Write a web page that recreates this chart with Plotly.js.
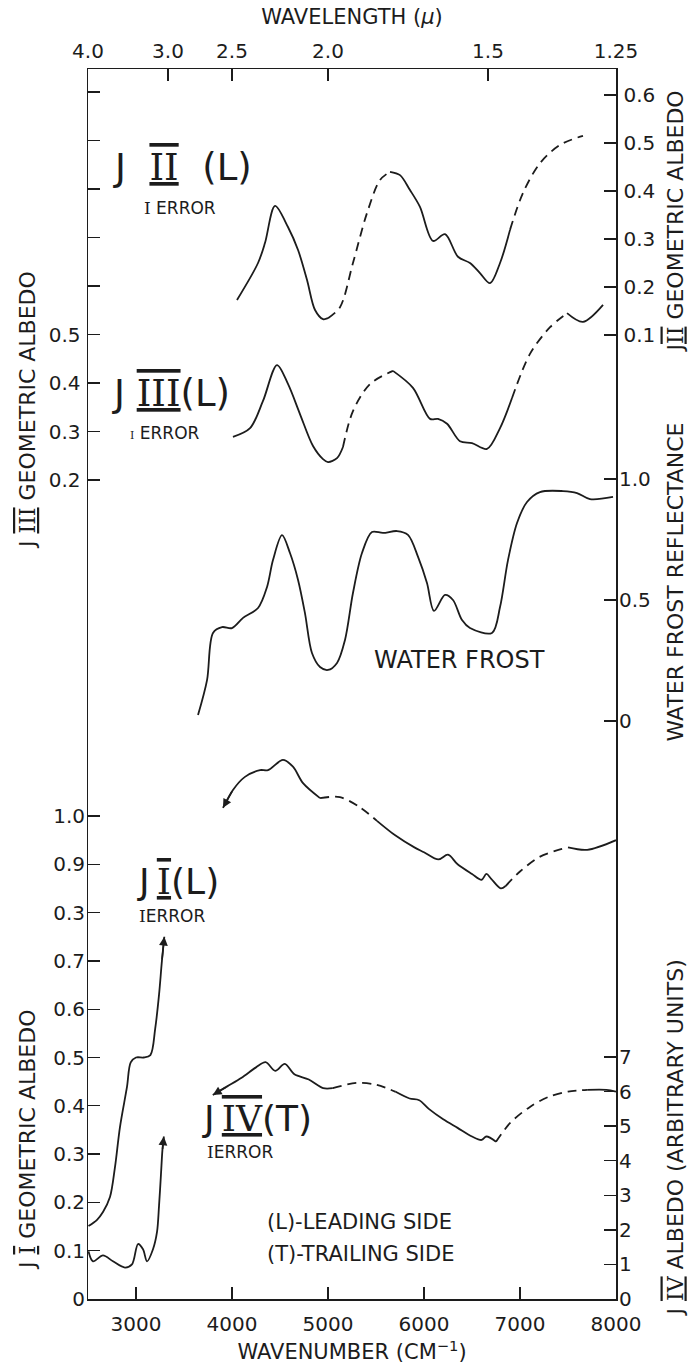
<!DOCTYPE html>
<html><head><meta charset="utf-8">
<script src="https://cdn.plot.ly/plotly-3.0.1.min.js"></script>
<style>body{margin:0;background:#fff}#c{width:689px;height:1369px}</style>
</head><body><div id="c"></div>
<script>
// ---------- axis tick data ----------
const wavenumberTicks = [3000,4000,5000,6000,7000,8000];
const wavelengthTicks = [4.0,3.0,2.5,2.0,1.5,1.25];
const wavelengthLabels = ['4.0','3.0','2.5','2.0','1.5','1.25'];
const j3Ticks = [0.2,0.3,0.4,0.5];
const j3Labels = ['0.2','0.3','0.4','0.5'];
const j3MinorTicks = [0.6,0.7,0.8,0.9,1.0];
const j2Ticks = [0.1,0.2,0.3,0.4,0.5,0.6];
const j2Labels = ['0.1','0.2','0.3','0.4','0.5','0.6'];
const frostTicks = [0,0.5,1.0];
const frostLabels = ['0','0.5','1.0'];
const j1Ticks = [0,0.1,0.2,0.3,0.4,0.5,0.6,0.7,0.8,0.9,1.0];
const j1Labels = ['0','0.1','0.2','0.3','0.4','0.5','0.6','0.7','0.3','0.9','1.0'];
const j4Ticks = [0,1,2,3,4,5,6,7];
const j4Labels = ['0','1','2','3','4','5','6','7'];

// ---------- series (wavenumber cm-1, value, segment style: s=solid d=dashed) ----------
const j2_wn  = [4052,4271,4344,4448,4583,4688,4781,4865,4948,5000,5125,5260,5406,5542,5646,5750,5854,5958,6094,6219,6354,6479,6583,6688,6792,6896,7031,7208,7417,7656];
const j2_val = [0.173,0.25,0.292,0.369,0.325,0.277,0.215,0.152,0.133,0.135,0.158,0.25,0.354,0.423,0.44,0.433,0.402,0.367,0.296,0.31,0.263,0.25,0.229,0.208,0.25,0.319,0.396,0.458,0.496,0.515];
const j2_sty = ['s','s','s','s','s','s','s','s','s','d','d','d','d','d','s','s','s','s','s','s','s','s','s','s','s','d','d','d','d','d'];

const j3_wn  = [4010,4188,4323,4469,4583,4708,4844,4948,5000,5094,5156,5260,5438,5677,5885,6063,6146,6240,6375,6500,6656,6792,6917,7104,7313,7490,7656,7865];
const j3_val = [0.289,0.307,0.363,0.437,0.398,0.336,0.270,0.243,0.237,0.245,0.268,0.342,0.398,0.425,0.39,0.326,0.326,0.316,0.28,0.276,0.264,0.307,0.369,0.46,0.515,0.544,0.526,0.561];
const j3_sty = ['s','s','s','s','s','s','s','s','s','s','d','d','d','s','s','s','s','s','s','s','s','s','d','d','d','s','s','s'];

const frost_wn  = [3646,3740,3802,3896,4000,4115,4271,4365,4427,4521,4604,4688,4760,4833,4917,5000,5094,5177,5260,5354,5458,5573,5719,5833,5938,6031,6104,6219,6302,6396,6479,6708,6792,6875,6969,7073,7208,7448,7594,7729,7969];
const frost_val = [0.025,0.169,0.364,0.388,0.384,0.426,0.467,0.554,0.665,0.768,0.694,0.583,0.446,0.281,0.223,0.211,0.240,0.335,0.529,0.694,0.781,0.777,0.785,0.769,0.678,0.570,0.455,0.521,0.500,0.417,0.384,0.364,0.471,0.665,0.818,0.905,0.946,0.950,0.942,0.917,0.926];

const j1a_wn  = [2505,2594,2656,2729,2781,2833,2906,2945,3000,3080,3150,3200,3240,3270,3295];
const j1a_val = [0.151,0.164,0.180,0.211,0.273,0.356,0.439,0.49,0.50,0.50,0.505,0.56,0.63,0.70,0.75];
const j1b_wn  = [3906,4010,4135,4292,4375,4531,4635,4740,4917,5125,5333,5510,5700,5900,6000,6150,6250,6350,6500,6600,6650,6700,6800,6850,7000,7200,7400,7500,7700,8000];
const j1b_val = [1.017,1.054,1.081,1.095,1.095,1.116,1.102,1.068,1.037,1.039,1.018,0.99,0.96,0.935,0.925,0.91,0.92,0.9,0.88,0.868,0.88,0.87,0.85,0.855,0.885,0.915,0.93,0.935,0.93,0.95];
const j1b_sty = ['s','s','s','s','s','s','s','s','d','d','d','s','s','s','s','s','s','s','s','s','s','s','s','d','d','d','d','s','s','s'];

const j4a_wn  = [2505,2552,2656,2760,2885,2958,3021,3073,3115,3177,3219,3240,3260,3275,3290];
const j4a_val = [1.38,1.09,1.26,1.09,0.91,1.0,1.59,1.44,1.09,1.44,1.94,2.7,3.6,4.3,4.7];
const j4b_wn  = [3800,3950,4100,4250,4350,4450,4550,4650,4800,4950,5050,5300,5500,5700,5850,5950,6050,6200,6350,6500,6600,6650,6750,6900,7100,7300,7500,7700,7900,8000];
const j4b_val = [5.9,6.15,6.4,6.7,6.85,6.6,6.8,6.5,6.35,6.1,6.1,6.25,6.2,6.0,5.8,5.75,5.5,5.2,4.95,4.7,4.6,4.7,4.55,5.1,5.55,5.85,6.0,6.05,6.05,6.0];
const j4b_sty = ['s','s','s','s','s','s','s','s','s','s','d','d','d','s','s','s','s','s','s','s','s','s','d','d','d','d','d','s','s','s'];

// ---------- layout geometry (pixels) ----------
const W=689,H=1369, L=88, R=616, T=69, B=1299;
const PW=R-L, PH=B-T;
function px(x){return (x-L)/PW;}
function py(y){return (B-y)/PH;}
function rangeFrom(v1,y1,v2,y2){const k=(y1-y2)/(v2-v1);const top=v1+(y1-T)/k;const bot=v1-(B-y1)/k;return [bot,top];}

const INK='#1c1c1c';
const FONT='DejaVu Sans';
const traces=[];
function addSeries(wn,val,sty,ax){
  let i=0;
  while(i<wn.length-1){
    const st=sty?sty[i]:'s';
    let j=i+1;
    while(j<wn.length-1 && (sty?sty[j]:'s')===st) j++;
    traces.push({x:wn.slice(i,j+1),y:val.slice(i,j+1),yaxis:ax,xaxis:'x',mode:'lines',
      line:{color:INK,width:1.8,shape:'spline',smoothing:0.9,dash:st==='d'?'9px,6px':'solid'},hoverinfo:'skip',showlegend:false});
    i=j;
  }
}
addSeries(j2_wn,j2_val,j2_sty,'y2');
addSeries(j3_wn,j3_val,j3_sty,'y');
addSeries(frost_wn,frost_val,null,'y3');
addSeries(j1a_wn,j1a_val,null,'y4');
addSeries(j1b_wn,j1b_val,j1b_sty,'y4');
addSeries(j4a_wn,j4a_val,null,'y5');
addSeries(j4b_wn,j4b_val,j4b_sty,'y5');
traces.push({x:[2500,8000],y:[0,0],xaxis:'x2',yaxis:'y',mode:'lines',line:{width:0},hoverinfo:'skip',showlegend:false});
traces.push({x:[2500,8000],y:[0,0],xaxis:'x',yaxis:'y6',mode:'lines',line:{width:0},hoverinfo:'skip',showlegend:false});

const tickFont={family:FONT,size:20,color:INK};
function yax(extra){return Object.assign({showgrid:false,zeroline:false,ticks:'inside',ticklen:12,tickwidth:1.3,tickcolor:INK,
  tickmode:'array',tickfont:tickFont,showline:false,fixedrange:true,ticklabelstandoff:2},extra);}

const r3=rangeFrom(0.5,334.5,0.2,480);
const r2=rangeFrom(0.1,335,0.6,95);
const rf=rangeFrom(0,721,1.0,479);
const r1=rangeFrom(0,1299,1.0,816);
const r4=rangeFrom(0,1299,7,1057);

function arrowEnd(wn,val,yref){
  const n=wn.length;
  return {x:wn[n-1],y:val[n-1],ax:wn[n-2],ay:val[n-2],xref:'x',yref:yref,axref:'x',ayref:yref,
    showarrow:true,arrowhead:2,arrowsize:1.1,arrowwidth:1.6,arrowcolor:INK,text:''};
}
function arrowStart(wn,val,yref){
  return {x:wn[0],y:val[0],ax:wn[1],ay:val[1],xref:'x',yref:yref,axref:'x',ayref:yref,
    showarrow:true,arrowhead:2,arrowsize:1.1,arrowwidth:1.6,arrowcolor:INK,text:''};
}
function RN(s){return '<span style="font-family:DejaVu Serif;text-decoration:overline underline">'+s+'</span>';}
function txt(text,x,y,size,opt){return Object.assign({text:text,x:px(x),y:py(y),xref:'paper',yref:'paper',showarrow:false,
  font:{family:FONT,size:size,color:INK},xanchor:'left',yanchor:'middle'},opt||{});}
function vtxt(text,x,y,size,anchor){return {text:text,x:px(x),y:py(y),xref:'paper',yref:'paper',showarrow:false,textangle:-90,
  font:{family:FONT,size:size,color:INK},xanchor:anchor||'center',yanchor:'middle',borderpad:0};}
const EB='<span style="font-family:DejaVu Serif">I</span>';
const SP='\u2009';

const annotations=[
  arrowEnd(j1a_wn,j1a_val,'y4'), arrowEnd(j4a_wn,j4a_val,'y5'),
  arrowStart(j1b_wn,j1b_val,'y4'), arrowStart(j4b_wn,j4b_val,'y5'),
  txt('J\u00a0\u00a0'+RN('II')+'\u00a0\u00a0(L)',111,168,37),
  txt(EB+' ERROR',142,208,17),
  txt('J\u00a0'+RN('III')+'(L)',110,393,37),
  txt('<span style="font-family:DejaVu Serif;font-size:11px">I</span> ERROR',128,433,17),
  txt('WATER FROST',372,660,24),
  txt('J'+SP+RN('I')+'(L)',135,882,36),
  txt(EB+'ERROR',137,916,17),
  txt('J'+SP+RN('IV')+'(T)',200,1118,36),
  txt(EB+'ERROR',205,1152,17),
  txt('(L)-LEADING SIDE',265,1222,21),
  txt('(T)-TRAILING SIDE',265,1254,21),
  vtxt('J '+RN('III')+' GEOMETRIC ALBEDO',27,410,22),
  vtxt('J '+RN('I')+' GEOMETRIC ALBEDO',27,1140,22),
  vtxt('J'+RN('II')+' GEOMETRIC ALBEDO',688,222,22,'right'),
  vtxt('WATER FROST REFLECTANCE',688,582,22,'right'),
  vtxt('J '+RN('IV')+' ALBEDO (ARBITRARY UNITS)',688,1138,22,'right')
];

const layout={
  width:W,height:H,margin:{l:L,r:W-R,t:T,b:H-B,pad:0},
  paper_bgcolor:'#fff',plot_bgcolor:'#fff',showlegend:false,
  xaxis:{range:[2500,8000],showgrid:false,zeroline:false,ticks:'inside',ticklen:12,tickwidth:1.3,tickcolor:INK,
    tickmode:'array',tickvals:wavenumberTicks,ticktext:wavenumberTicks.map(String),tickfont:tickFont,ticklabelstandoff:6,
    showline:true,linecolor:INK,linewidth:1.5,fixedrange:true,
    title:{text:'WAVENUMBER (CM<sup>−1</sup>)',font:{family:FONT,size:21,color:INK},standoff:10}},
  xaxis2:{overlaying:'x',side:'top',range:[2500,8000],showgrid:false,zeroline:false,ticks:'inside',ticklen:12,tickwidth:1.3,tickcolor:INK,
    tickmode:'array',tickvals:wavelengthTicks.map(l=>1e4/l),ticktext:wavelengthLabels,tickfont:tickFont,ticklabelstandoff:2,
    showline:true,linecolor:INK,linewidth:1.5,fixedrange:true,
    title:{text:'WAVELENGTH (<i>μ</i>)',font:{family:FONT,size:21,color:INK},standoff:8}},
  yaxis:yax({range:r3,side:'left',tickvals:j3Ticks,ticktext:j3Labels,showline:true,linecolor:INK,linewidth:1.5}),
  yaxis6:yax({range:r3,side:'left',overlaying:'y',tickvals:j3MinorTicks,showticklabels:false}),
  yaxis2:yax({range:r2,side:'right',overlaying:'y',tickvals:j2Ticks,ticktext:j2Labels,showline:true,linecolor:INK,linewidth:1.5}),
  yaxis3:yax({range:rf,side:'right',overlaying:'y',tickvals:frostTicks,ticktext:frostLabels}),
  yaxis4:yax({range:r1,side:'left',overlaying:'y',tickvals:j1Ticks,ticktext:j1Labels}),
  yaxis5:yax({range:r4,side:'right',overlaying:'y',tickvals:j4Ticks,ticktext:j4Labels}),
  annotations:annotations
};
Plotly.newPlot('c',traces,layout,{staticPlot:true});
</script></body></html>
